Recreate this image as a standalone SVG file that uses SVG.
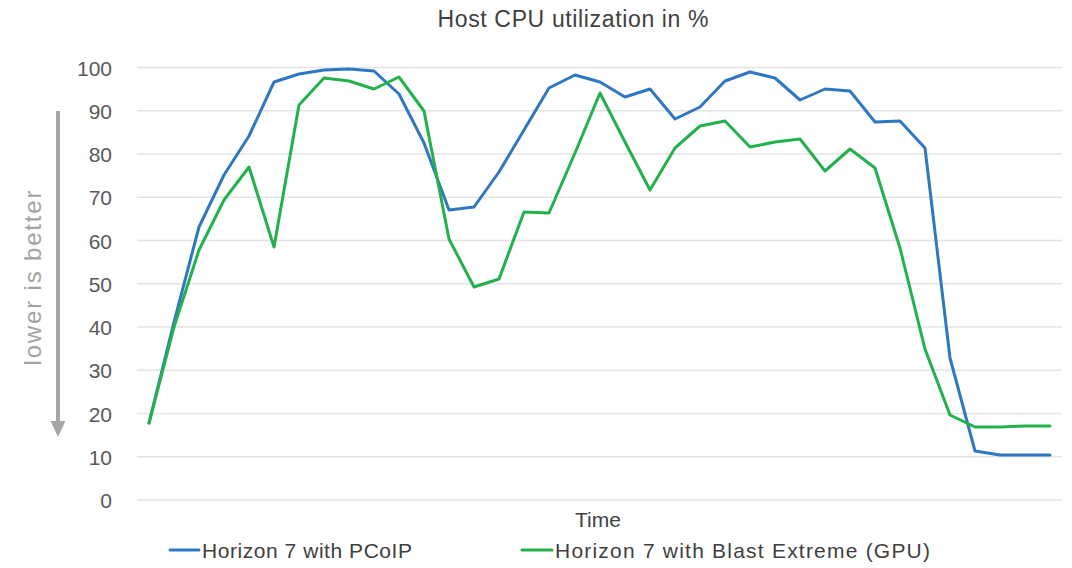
<svg xmlns="http://www.w3.org/2000/svg" width="1072" height="568" viewBox="0 0 1072 568">
  <style>
    .grid { stroke: #e3e3e3; stroke-width: 1.5; }
    .tick { font-family: "Liberation Sans", Arial, sans-serif; font-size: 21px; fill: #595959; text-anchor: end; }
    .label { font-family: "Liberation Sans", Arial, sans-serif; fill: #404040; }
    .series { fill: none; stroke-width: 3; stroke-linejoin: round; stroke-linecap: round; }
    .pcoip { stroke: #2e78c2; }
    .blast { stroke: #23b14d; }
  </style>
  <rect width="1072" height="568" fill="#ffffff"/>

  <!-- title -->
  <text id="title" class="label" x="573" y="27" font-size="23" text-anchor="middle" textLength="271">Host CPU utilization in %</text>

  <!-- gridlines, 0 to 100 step 10 -->
  <g id="gridlines">
    <line class="grid" x1="137" y1="67.5" x2="1062" y2="67.5"/>
    <line class="grid" x1="137" y1="110.8" x2="1062" y2="110.8"/>
    <line class="grid" x1="137" y1="154" x2="1062" y2="154"/>
    <line class="grid" x1="137" y1="197.3" x2="1062" y2="197.3"/>
    <line class="grid" x1="137" y1="240.5" x2="1062" y2="240.5"/>
    <line class="grid" x1="137" y1="283.8" x2="1062" y2="283.8"/>
    <line class="grid" x1="137" y1="327" x2="1062" y2="327"/>
    <line class="grid" x1="137" y1="370.3" x2="1062" y2="370.3"/>
    <line class="grid" x1="137" y1="413.5" x2="1062" y2="413.5"/>
    <line class="grid" x1="137" y1="456.8" x2="1062" y2="456.8"/>
    <line class="grid" x1="137" y1="500" x2="1062" y2="500"/>
  </g>

  <!-- y axis tick labels -->
  <g id="y-axis">
    <text class="tick" x="112" y="76">100</text>
    <text class="tick" x="112" y="119">90</text>
    <text class="tick" x="112" y="162">80</text>
    <text class="tick" x="112" y="205">70</text>
    <text class="tick" x="112" y="249">60</text>
    <text class="tick" x="112" y="292">50</text>
    <text class="tick" x="112" y="335">40</text>
    <text class="tick" x="112" y="378">30</text>
    <text class="tick" x="112" y="422">20</text>
    <text class="tick" x="112" y="465">10</text>
    <text class="tick" x="112" y="508">0</text>
  </g>

  <!-- "lower is better" annotation -->
  <g id="annotation">
    <line x1="58" y1="111" x2="58" y2="423" stroke="#a6a6a6" stroke-width="4"/>
    <polygon points="50.5,421 65.5,421 58,437" fill="#a6a6a6"/>
    <text x="0" y="0" transform="translate(41 278) rotate(-90)" font-family="Liberation Sans, Arial, sans-serif" font-size="24" fill="#a3a3a3" text-anchor="middle" textLength="175">lower is better</text>
  </g>

  <!-- data series -->
  <g id="connectors">
    <polyline id="series-pcoip" class="series pcoip" points="149,423 174,322 199,227 224,175 249,136 274,82 299,74 324,70 349,69 374,71 399,94 424,143 449,210 474,207 499,172 524,130 549,88 575,75 600,82 625,97 650,89 675,119 700,107 725,81 750,72 775,78 800,100 825,89 850,91 875,122 900,121 925,148 950,358 975,451 1000,455 1025,455 1050,455"/>
    <polyline id="series-blast" class="series blast" points="149,423 174,327 199,250 224,200 249,167 274,247 299,105 324,78 349,81 374,89 399,77 424,111 449,239 474,287 499,279 524,212 549,213 575,153 600,93 625,142 650,190 675,148 700,126 725,121 750,147 775,142 800,139 825,171 850,149 875,168 900,248 925,349 950,415 975,427 1000,427 1025,426 1050,426"/>
  </g>

  <!-- x axis title -->
  <text id="x-title" class="label" x="598" y="527" font-size="21" text-anchor="middle">Time</text>

  <!-- legend -->
  <g id="legend-pcoip">
    <line x1="170" y1="550" x2="199" y2="550" class="series pcoip"/>
    <text class="label" x="202" y="558" font-size="21" textLength="210">Horizon 7 with PCoIP</text>
  </g>
  <g id="legend-blast">
    <line x1="522" y1="550" x2="552" y2="550" class="series blast"/>
    <text class="label" x="555" y="558" font-size="21" textLength="375">Horizon 7 with Blast Extreme (GPU)</text>
  </g>
</svg>
